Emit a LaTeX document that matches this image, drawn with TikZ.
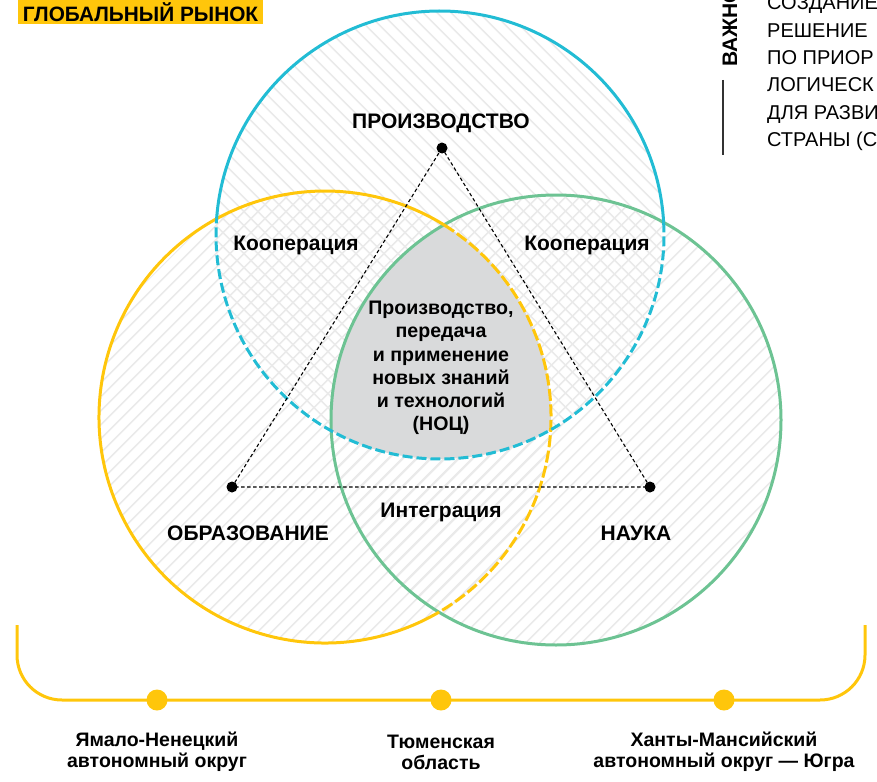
\documentclass[tikz,border=0pt]{standalone}
\usepackage{fontspec}
\setmainfont{Liberation Sans}
\usetikzlibrary{patterns.meta}

\definecolor{ringYellow}{HTML}{FFC60B}
\definecolor{ringBlue}{HTML}{22BCD4}
\definecolor{ringGreen}{HTML}{6DC393}
\definecolor{coreGray}{HTML}{D9DADB}
\definecolor{hatchGray}{HTML}{EAEAEA}

\begin{document}
\begin{tikzpicture}[x=1pt,y=-1pt,
  lbl/.style={font=\bfseries\fontsize{21}{23}\selectfont, align=center},
  core/.style={font=\bfseries\fontsize{19.6}{23.3}\selectfont, align=center},
  region/.style={font=\bfseries\fontsize{19.5}{21}\selectfont, align=center},
  side/.style={font=\fontsize{20}{22}\selectfont, anchor=base west, inner sep=0pt},
  ring/.style={line width=3pt},
  tri/.style={line width=1.1pt, dash pattern=on 3.5pt off 2.5pt},
  dot/.style={circle, fill=black, inner sep=0pt, minimum size=11pt},
  bdot/.style={circle, fill=ringYellow, inner sep=0pt, minimum size=21pt},
  hatchR/.style={pattern={Lines[angle=45,distance=10.5pt,line width=1.9pt]}, pattern color=hatchGray},
  hatchL/.style={pattern={Lines[angle=-45,distance=10.5pt,line width=1.9pt]}, pattern color=hatchGray}]
\useasboundingbox (0,0) rectangle (877,781);
\clip (0,0) rectangle (877,781);
% circle centres
\coordinate (cB) at (440,235);
\coordinate (cY) at (325,417);
\coordinate (cG) at (556,420);
% Hatched disks (drawn FIRST)
\fill[hatchR] (cY) circle (226);
\fill[hatchR] (cG) circle (225);
\fill[hatchL] (cB) circle (224);
% Common core of the three circles
\begin{scope}
  \clip (cY) circle (226);
  \clip (cG) circle (225);
  \fill[coreGray] (cB) circle (224);
\end{scope}
% Outlines: solid outside, dashed inside the other circles
\draw[ring, ringGreen] (cG) circle (225);
\draw[ring, ringYellow] ([shift={(59.71:226)}]cY) arc (59.71:301.77:226);
\draw[ring, ringYellow, dash pattern=on 12pt off 3.5pt] ([shift={(-58.23:226)}]cY) arc (-58.23:59.71:226);
\draw[ring, ringBlue] ([shift={(184.18:224)}]cB) arc (184.18:356.78:224);
\draw[ring, ringBlue, dash pattern=on 10pt off 4pt] ([shift={(-3.22:224)}]cB) arc (-3.22:184.18:224);
% Triangle
\node[dot] (tP) at (442,148) {};
\node[dot] (tO) at (232,487) {};
\node[dot] (tN) at (650,487) {};
\draw[tri] (tP.center) -- (tO.center) -- (tN.center) -- cycle;
% Labels
\node[lbl] (prod) at (441,123) {ПРОИЗВОДСТВО};
\node[lbl] (edu) at (248,533) {ОБРАЗОВАНИЕ};
\node[lbl] (sci) at (636,533) {НАУКА};
\node[lbl] (coopL) at (296,245) {Кооперация};
\node[lbl] (coopR) at (587,245) {Кооперация};
\node[lbl] (integ) at (441,512) {Интеграция};
\node[core] (noc) at (441,368) {Производство,\\передача\\и применение\\новых знаний\\и технологий\\(НОЦ)};
% Global market tag
\fill[ringYellow] (18,0) rectangle (263,24);
\node[font=\bfseries\fontsize{20.8}{22}\selectfont] (market) at (140.5,12) {ГЛОБАЛЬНЫЙ РЫНОК};
% Side note (cut by the page edge)
\node[font=\bfseries\fontsize{21}{22}\selectfont, rotate=90, anchor=base west, inner sep=0pt] (vazh) at (737,67) {ВАЖНО};
\draw[line width=1.2pt, black!80] (723,80) -- (723,155);
\foreach \txt [count=\i from 0] in {СОЗДАНИЕ, РЕШЕНИЕ, ПО ПРИОР, ЛОГИЧЕСК, ДЛЯ РАЗВИ, СТРАНЫ (С}
  \node[side] (side\i) at (767,{10+27.3*\i}) {\txt};
% Bottom bracket with regions
\draw[ring, ringYellow, rounded corners=45pt] (17,625) -- (17,700) -- (865,700) -- (865,625);
\node[bdot] (dYa) at (157,700) {};
\node[bdot] (dTy) at (441,700) {};
\node[bdot] (dKh) at (724,700) {};
\node[region] (rYa) at (157,752) {Ямало-Ненецкий\\автономный округ};
\node[region] (rTy) at (441,752) {Тюменская\\область};
\node[region] (rKh) at (724,752) {Ханты-Мансийский\\автономный округ — Югра};
\end{tikzpicture}
\end{document}
